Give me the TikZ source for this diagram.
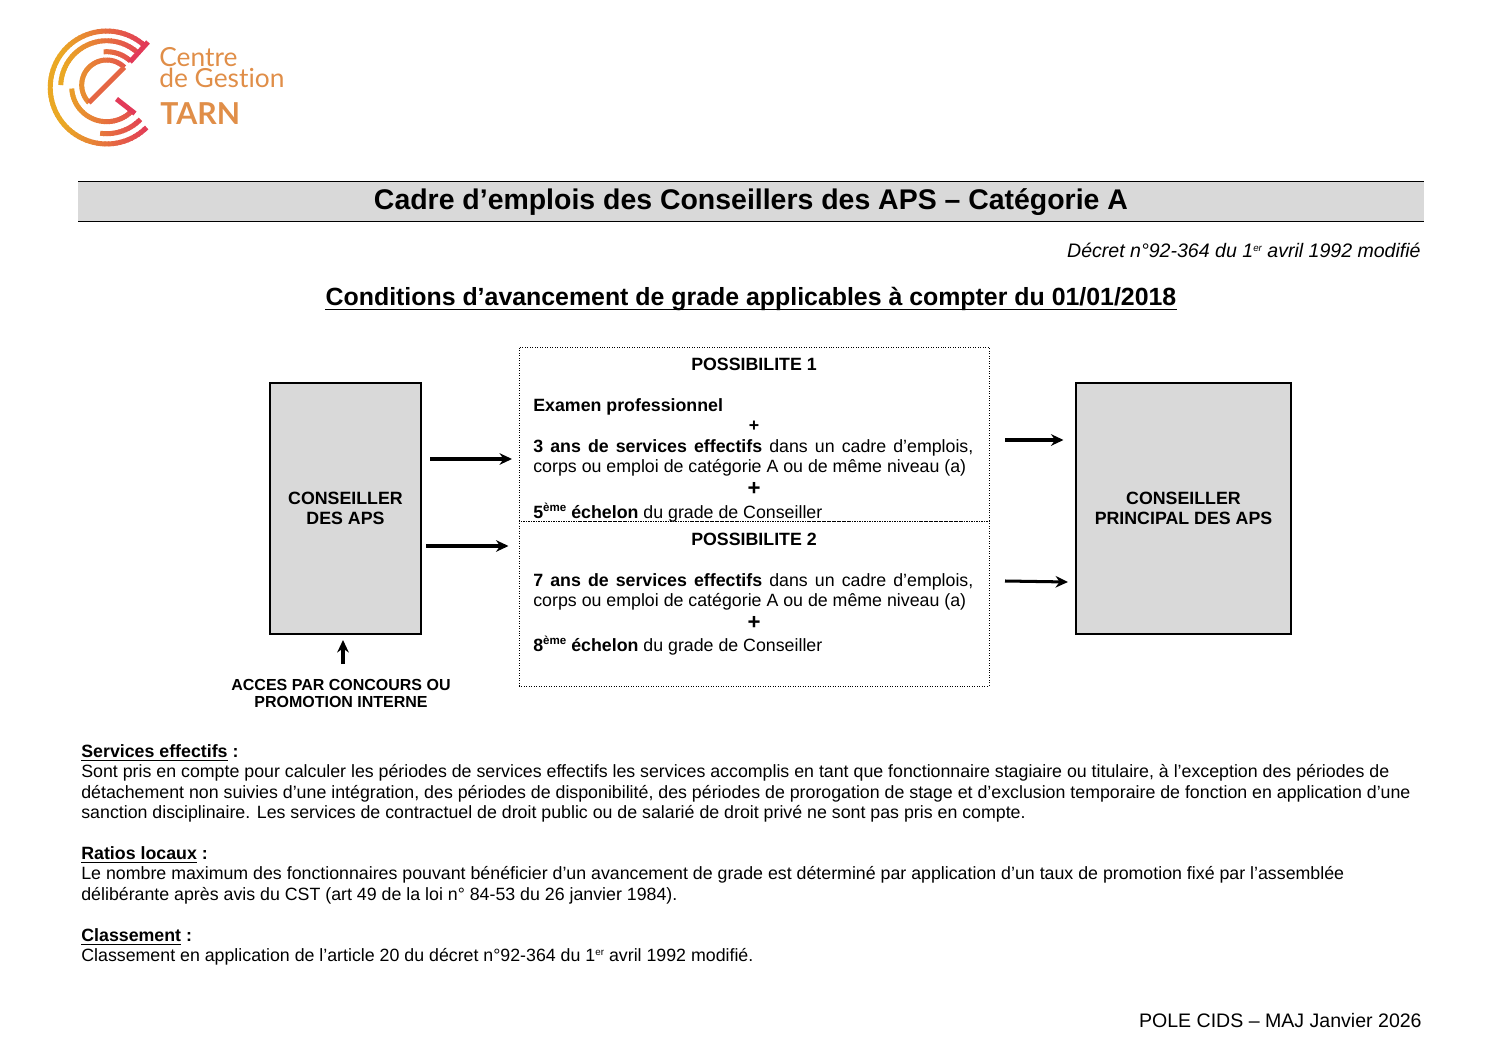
\documentclass[tikz,border=0pt]{standalone}
\usepackage{fontspec}
\setmainfont{Liberation Sans}
\newfontfamily\logofont[Ligatures=NoCommon]{Lato}
\definecolor{bandgray}{RGB}{217,217,217}
\definecolor{logoorange}{RGB}{234,168,36}
\definecolor{logored}{RGB}{226,58,88}
\definecolor{logotext}{RGB}{224,142,72}
\usetikzlibrary{arrows.meta}
\tikzstyle{grade} = [rectangle, draw=black, fill=bandgray, line width=0.7pt, minimum height=141.2pt, align=center, font=\fontsize{10}{11.6}\selectfont\bfseries, inner sep=0pt]
\tikzstyle{possible} = [rectangle, draw=black, densely dotted, line width=0.4pt, minimum width=264.4pt, inner sep=0pt]
\tikzstyle{boxline} = [anchor=base west, inner sep=0pt, font=\fontsize{10}{11.5}\selectfont]
\tikzstyle{boxhead} = [anchor=base, inner sep=0pt, font=\fontsize{10}{11.5}\selectfont\bfseries]
\tikzstyle{plus} = [anchor=base, inner sep=0pt, font=\fontsize{12.5}{13}\selectfont\bfseries]
\tikzstyle{para} = [anchor=north west, inner sep=0pt, align=left, font=\fontsize{10}{11.5}\selectfont]
\tikzstyle{arrow} = [line width=1.7pt,-{Stealth[length=7pt,width=6.5pt]}]
\tikzstyle{logoline} = [line width=2.8pt, line cap=butt]
\newcommand{\justline}[1]{\makebox[247.5pt][s]{#1}}
\newcommand{\sups}[1]{\raisebox{3.4pt}{\fontsize{5.5}{6}\selectfont #1}}
\newcommand{\supb}[1]{\raisebox{3.4pt}{\fontsize{6.5}{7}\selectfont #1}}
\newcommand{\logoarc}[5]{%
  \pgfmathtruncatemacro\nseg{abs(#5-#4)/4+1}
  \foreach \i in {1,...,\nseg}{
    \pgfmathsetmacro\angA{#4+(#5-#4)/\nseg*(\i-1)}
    \pgfmathsetmacro\angB{#4+(#5-#4)/\nseg*min(\i+0.3,\nseg)}
    \pgfmathsetmacro\xA{#1+#3*cos(\angA)}
    \pgfmathsetmacro\yA{#2-#3*sin(\angA)}
    \pgfmathsetmacro\xB{#1+#3*cos(\angB)}
    \pgfmathsetmacro\yB{#2-#3*sin(\angB)}
    \pgfmathtruncatemacro\pct{max(0,min(100,(\xA-62)/0.85))}
    \draw[logoline, draw=logored!\pct!logoorange] (\xA,\yA) -- (\xB,\yB);
  }
}

\begin{document}
\begin{tikzpicture}[x=0.5625pt, y=-0.5625pt]
\useasboundingbox (0,0) rectangle (1497,1058);

% logo
\logoarc{106.7}{87.5}{56.5}{47}{315}
\logoarc{106.7}{86.7}{46}{178}{50}
\logoarc{106.7}{86.7}{35}{95}{47}
\logoarc{106.7}{86.7}{35}{183}{317}
\logoarc{106.7}{86.7}{47}{262}{316}
\logoarc{106.7}{85}{25}{45}{225}
\draw [logoline, draw=logored] (148,42) -- (130,62);
\draw [logoline, draw=logored] (116.5,99) -- (135,113.5);
\draw [logoline, draw=logored!60!logoorange] (124.4,67.3) -- (88.9,102.7);
\node (centre) [anchor=north west, inner sep=0pt, align=left, text=logotext, font=\logofont\fontsize{14.8}{11.8}\selectfont] at (159,47) {Centre\\de Gestion};
\node (tarn) [anchor=base west, inner sep=0pt, text=logotext, font=\logofont\bfseries\fontsize{17}{18}\selectfont] at (160,125) {TARN};

% title band
\fill [bandgray] (78,181) rectangle (1424,221);
\draw [line width=0.4pt] (78,181) -- (1424,181);
\draw [line width=0.4pt] (78,221) -- (1424,221);
\node (title) [inner sep=0pt, font=\fontsize{16}{18}\selectfont\bfseries] at (751,202.5) {Cadre d’emplois des Conseillers des APS – Catégorie A};
\node (decret) [anchor=base east, inner sep=0pt, font=\fontsize{11}{12.5}\selectfont\itshape] at (1421,258) {Décret n°92-364 du 1\sups{er} avril 1992 modifié};
\node (conditions) [anchor=base, inner sep=0pt, font=\fontsize{14}{16}\selectfont\bfseries] at (751,306) {Conditions d’avancement de grade applicables à compter du 01/01/2018};
\draw [line width=1pt] ([yshift=-2pt]conditions.base west) -- ([yshift=-2pt]conditions.base east);

% grades
\node (conseiller) [grade, minimum width=84.9pt] at (345.5,508.5) {CONSEILLER\\DES APS};
\node (principal) [grade, minimum width=120.9pt] at (1183.5,508.5) {CONSEILLER\\PRINCIPAL DES APS};
\node (acces) [anchor=north, inner sep=0pt, align=center, font=\fontsize{9}{10}\selectfont\bfseries] at (341,678.5) {ACCES PAR CONCOURS OU\\PROMOTION INTERNE};

% possibilites
\node (poss1) [possible, minimum height=97.9pt] at (754,434) {};
\node (poss2) [possible, minimum height=92.8pt] at (754,603.5) {};

\node (head1) [boxhead] at (754,370.5) {POSSIBILITE 1};
\node (exam) [boxline, font=\fontsize{10}{11.5}\selectfont\bfseries] at (533,411) {Examen professionnel};
\node (plus1) [plus, font=\fontsize{10}{11}\selectfont\bfseries] at (754,431.5) {+};
\node (ans3) [boxline] at (533,452.5) {\justline{\textbf{3 ans de services effectifs} dans un cadre d’emplois,}};
\node (corps1) [boxline] at (533,472) {corps ou emploi de catégorie A ou de même niveau (a)};
\node (plus2) [plus] at (754,495.5) {+};
\node (ech5) [boxline] at (533,518) {\textbf{5\supb{ème} échelon} du grade de Conseiller};

\node (head2) [boxhead] at (754,545) {POSSIBILITE 2};
\node (ans7) [boxline] at (533,586) {\justline{\textbf{7 ans de services effectifs} dans un cadre d’emplois,}};
\node (corps2) [boxline] at (533,606) {corps ou emploi de catégorie A ou de même niveau (a)};
\node (plus3) [plus] at (754,629.5) {+};
\node (ech8) [boxline] at (533,651) {\textbf{8\supb{ème} échelon} du grade de Conseiller};

% arrows
\coordinate (a1s) at (430,459);
\coordinate (a1e) at (512,459);
\coordinate (a2s) at (426,546);
\coordinate (a2e) at (508.5,546);
\coordinate (a3s) at (1005,440);
\coordinate (a3e) at (1063.5,440);
\coordinate (a4s) at (1005,581);
\coordinate (a4e) at (1068,582);
\coordinate (a5s) at (343,664);
\coordinate (a5e) at (343,640);
\draw [arrow] (a1s) -- (a1e);
\draw [arrow] (a2s) -- (a2e);
\draw [arrow] (a3s) -- (a3e);
\draw [arrow] (a4s) -- (a4e);
\draw [arrow] (a5s) -- (a5e);

% notes
\node (services) [para] at (81,744) {\textbf{\underline{Services effectifs} :}\\
Sont pris en compte pour calculer les périodes de services effectifs les services accomplis en tant que fonctionnaire stagiaire ou titulaire, à l’exception des périodes de\\
détachement non suivies d’une intégration, des périodes de disponibilité, des périodes de prorogation de stage et d’exclusion temporaire de fonction en application d’une\\
sanction disciplinaire. Les services de contractuel de droit public ou de salarié de droit privé ne sont pas pris en compte.};
\node (ratios) [para] at (81,846) {\textbf{\underline{Ratios locaux} :}\\
Le nombre maximum des fonctionnaires pouvant bénéficier d’un avancement de grade est déterminé par application d’un taux de promotion fixé par l’assemblée\\
délibérante après avis du CST (art 49 de la loi n° 84-53 du 26 janvier 1984).};
\node (classement) [para] at (81,928) {\textbf{\underline{Classement} :}\\
Classement en application de l’article 20 du décret n°92-364 du 1\sups{er} avril 1992 modifié.};
\node (pole) [anchor=base east, inner sep=0pt, font=\fontsize{11}{12.5}\selectfont] at (1422,1027) {POLE CIDS – MAJ Janvier 2026};
\end{tikzpicture}
\end{document}
